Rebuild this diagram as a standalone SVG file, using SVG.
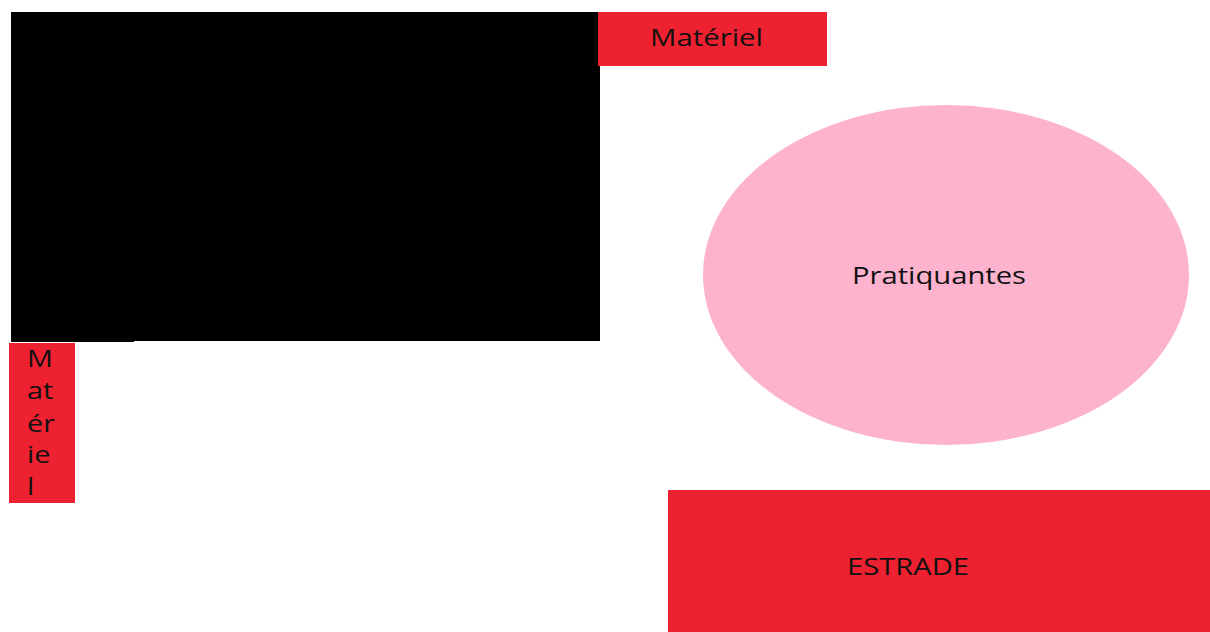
<svg xmlns="http://www.w3.org/2000/svg" width="1210" height="632" viewBox="0 0 1210 632">
<style>
.red{fill:#EE2130}
.lbl{font-family:"Open Sans","Noto Sans","Liberation Sans",sans-serif;font-size:24px;fill:#111}
</style>
<rect width="1210" height="632" fill="#fff"/>
<g id="zone-noire"><rect x="11" y="12" width="589" height="329" fill="#000"/><rect x="11" y="340" width="123" height="2" fill="#000"/></g>
<g id="materiel-haut"><rect class="red" x="598" y="12" width="229" height="54"/><text class="lbl" x="650" y="46" textLength="113" lengthAdjust="spacingAndGlyphs">Matériel</text></g>
<g id="materiel-gauche"><rect class="red" x="9" y="343" width="66" height="160"/>
<g transform="translate(27,0) scale(1.2,1)"><text class="lbl"><tspan x="0" y="367">M</tspan><tspan x="0" y="399">at</tspan><tspan x="0" y="432">ér</tspan><tspan x="0" y="463">ie</tspan><tspan x="0" y="495">l</tspan></text></g></g>
<g id="pratiquantes"><ellipse cx="946" cy="275" rx="243" ry="170" fill="#FDB3CD"/><text class="lbl" x="852" y="284" textLength="174" lengthAdjust="spacingAndGlyphs">Pratiquantes</text></g>
<g id="estrade"><rect class="red" x="668" y="490" width="542" height="142"/><text class="lbl" x="847" y="575" textLength="122" lengthAdjust="spacingAndGlyphs">ESTRADE</text></g>
<g id="connectors"/>
</svg>
